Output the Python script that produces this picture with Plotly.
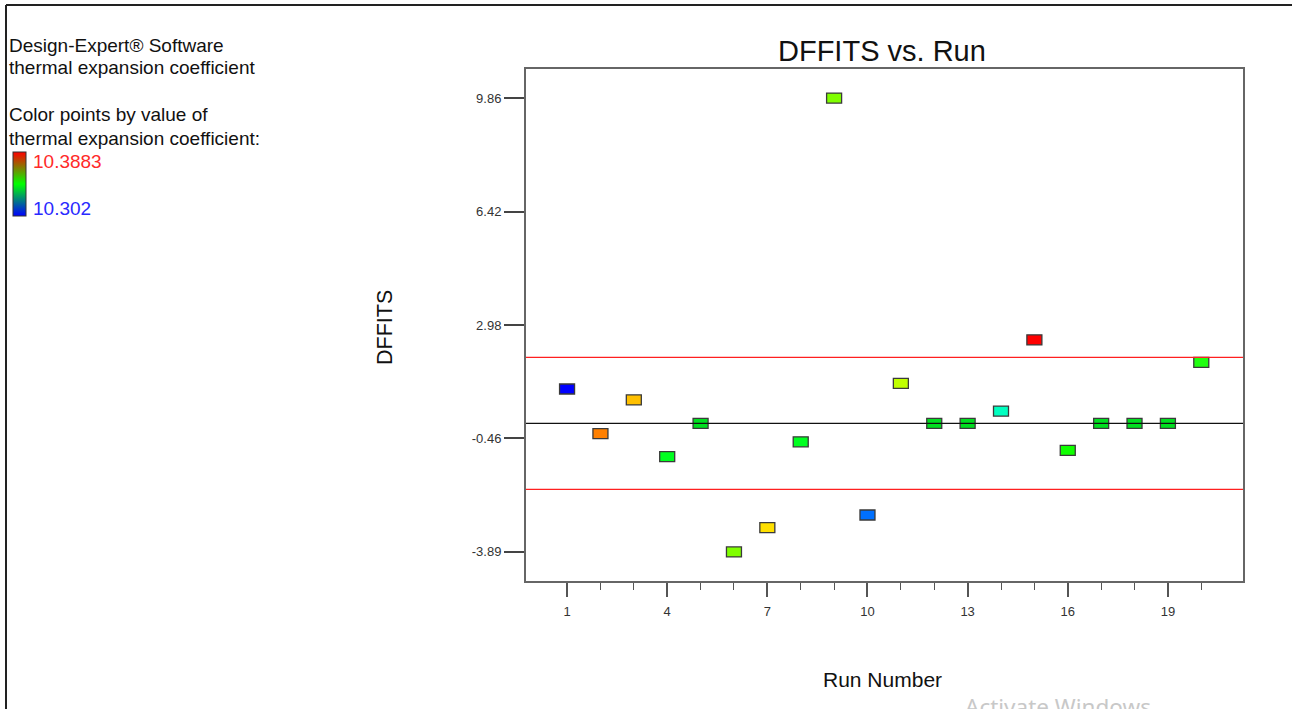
import plotly.graph_objects as go

# ---------------- data ----------------
run_number = list(range(1, 21))
dffits = [1.04, -0.31, 0.71, -1.01, 0.0, -3.90, -3.16, -0.56, 9.86, -2.78,
          1.21, 0.0, 0.0, 0.37, 2.53, -0.82, 0.0, 0.0, 0.0, 1.85]
point_colors = ["#0000ff", "#ff8000", "#ffc000", "#00ff20", "#00e020",
                "#80ff00", "#ffe000", "#00ff20", "#80ff00", "#0070ff",
                "#c0ff00", "#00e020", "#00e020", "#00ffc0", "#ff0000",
                "#10ff00", "#00e020", "#00e020", "#00e020", "#20ff10"]
limit_values = [2.0, -2.0]
center_value = 0.0
y_tick_values = [9.86, 6.42, 2.98, -0.46, -3.89]
y_tick_labels = ["9.86", "6.42", "2.98", "-0.46", "-3.89"]
x_major_ticks = [1, 4, 7, 10, 13, 16, 19]
x_minor_ticks = [2, 3, 5, 6, 8, 9, 11, 12, 14, 15, 17, 18, 20]
color_min, color_max = 10.302, 10.3883

W, H = 1292, 709
FONT = "Arial, Liberation Sans, sans-serif"


def px(x):
    return x / W


def py(y):
    return 1 - y / H


fig = go.Figure()

# visible data trace (squares under the rectangle shapes)
fig.add_trace(go.Scatter(
    x=run_number, y=dffits, mode="markers",
    marker=dict(symbol="square", size=9, color=point_colors, line=dict(width=0)),
    showlegend=False, hovertemplate="Run %{x}<br>DFFITS %{y}<extra></extra>",
))

# colour scale legend (colorbar)
fig.add_trace(go.Scatter(
    x=[None, None], y=[None, None], mode="markers", showlegend=False,
    marker=dict(color=[color_min, color_max], cmin=color_min, cmax=color_max,
                colorscale=[[0, "#0000ff"], [0.5, "#00ff00"], [1, "#ff0000"]],
                showscale=True,
                colorbar=dict(thickness=13, thicknessmode="pixels",
                              len=64, lenmode="pixels",
                              x=px(13), xanchor="left", y=py(152), yanchor="top",
                              xpad=0, ypad=0, outlinewidth=1, outlinecolor="#333",
                              showticklabels=False, ticks="", borderwidth=0)),
))

shapes = []
# rectangular point markers, anchored at data coordinates, pixel sized
for xv, yv, c in zip(run_number, dffits, point_colors):
    shapes.append(dict(type="rect", xref="x", yref="y",
                       xsizemode="pixel", ysizemode="pixel",
                       xanchor=xv, yanchor=yv, x0=-7.5, x1=7.5, y0=-5, y1=5,
                       fillcolor=c, line=dict(color="#3a3a3a", width=1.3),
                       layer="above"))
# reference lines
for lv in limit_values:
    shapes.append(dict(type="line", xref="paper", yref="y",
                       x0=px(526), x1=px(1243), y0=lv, y1=lv,
                       line=dict(color="#ff2020", width=1.2), layer="above"))
shapes.append(dict(type="line", xref="paper", yref="y",
                   x0=px(526), x1=px(1243), y0=center_value, y1=center_value,
                   line=dict(color="#111111", width=1.3), layer="above"))
# page frame lines (left and top)
shapes.append(dict(type="line", xref="paper", yref="paper",
                   x0=px(6), x1=px(6), y0=py(5), y1=py(709),
                   line=dict(color="#222", width=2)))
shapes.append(dict(type="line", xref="paper", yref="paper",
                   x0=px(6), x1=px(1292), y0=py(5), y1=py(5),
                   line=dict(color="#222", width=2)))

annotations = []


def ann(text, x, y, size, color="#111", xanchor="left", yanchor="middle", textangle=0, family=FONT):
    annotations.append(dict(text=text, x=px(x), y=py(y), xref="paper", yref="paper",
                            xanchor=xanchor, yanchor=yanchor, showarrow=False,
                            textangle=textangle,
                            font=dict(size=size, color=color, family=family)))


ann("Design-Expert® Software", 7, 45, 19)
ann("thermal expansion coefficient", 7, 68, 19)
ann("Color points by value of", 7, 115, 19)
ann("thermal expansion coefficient:", 7, 138, 19)
ann("10.3883", 31, 161, 19, color="#ff2a2a")
ann("10.302", 31, 208, 19, color="#2a2aff")

ann("DFFITS vs. Run", 882, 51, 29, xanchor="center")
ann("DFFITS", 385, 328, 21.5, xanchor="center", textangle=-90)
ann("Run Number", 882, 679, 21, xanchor="center")
ann("Activate Windows", 963, 689, 22.5, color="#c8c8c8", yanchor="top",
    family="Noto Sans, Open Sans, sans-serif")

fig.update_layout(
    width=W, height=H, autosize=False,
    margin=dict(l=0, r=0, t=0, b=0),
    paper_bgcolor="white", plot_bgcolor="white",
    shapes=shapes, annotations=annotations,
    font=dict(family=FONT, color="#222"),
    xaxis=dict(domain=[px(526), px(1243)], range=[-0.23, 21.25],
               tickmode="array", tickvals=x_major_ticks,
               ticktext=[str(v) for v in x_major_ticks],
               ticks="outside", ticklen=14, tickwidth=1.5, tickcolor="#555",
               ticklabelstandoff=3,
               minor=dict(tickmode="array", tickvals=x_minor_ticks, ticks="outside",
                          ticklen=7, tickwidth=1.2, tickcolor="#555", showgrid=False),
               showgrid=False, zeroline=False,
               showline=True, linecolor="#666", linewidth=2, mirror=True,
               tickfont=dict(size=13, color="#333", family=FONT),
               fixedrange=True),
    yaxis=dict(domain=[py(581), py(69)], range=[-4.78, 10.74],
               tickmode="array", tickvals=y_tick_values, ticktext=y_tick_labels,
               ticks="outside", ticklen=20, tickwidth=1.5, tickcolor="#444",
               showgrid=False, zeroline=False,
               showline=True, linecolor="#666", linewidth=2, mirror=True,
               tickfont=dict(size=13, color="#333", family=FONT),
               fixedrange=True),
)

fig.write_html("out.html", config={"displayModeBar": False},
               post_script="document.body.style.margin='0';")
